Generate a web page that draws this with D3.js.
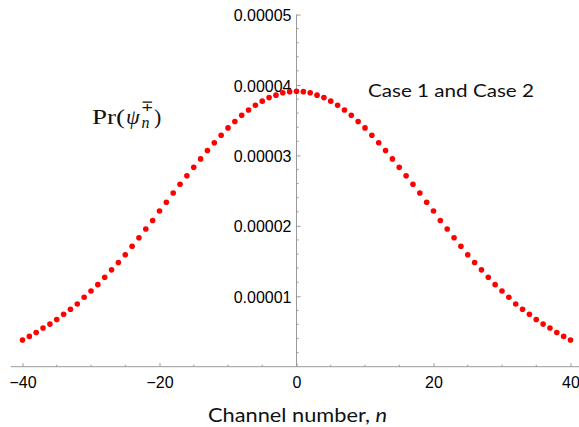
<!DOCTYPE html>
<html>
<head>
<meta charset="utf-8">
<script src="https://cdn.jsdelivr.net/npm/d3@7"></script>
<style>
  body { margin: 0; background: #fff; }
  svg { display: block; }
</style>
</head>
<body>
<div id="container"></div>
<script>
/** CONSTANTS AND GLOBALS */
const width = 579,
  height = 427;

// channel numbers n = -40 ... 40
const channels = d3.range(-40, 41);

// Pr(psi_n), in units of 1e-5, n = -40 ... 40
const probValues = [
  0.38, 0.43, 0.485, 0.55, 0.605, 0.67, 0.745, 0.815, 0.89, 0.985,
  1.075, 1.165, 1.27, 1.375, 1.48, 1.59, 1.71, 1.83, 1.955, 2.075,
  2.21, 2.335, 2.465, 2.59, 2.71, 2.83, 2.95, 3.07, 3.18, 3.285,
  3.39, 3.48, 3.57, 3.645, 3.71, 3.77, 3.82, 3.855, 3.89, 3.905,
  3.91,
  3.905, 3.89, 3.855, 3.82, 3.77, 3.71, 3.645, 3.57, 3.48, 3.39,
  3.285, 3.18, 3.07, 2.95, 2.83, 2.71, 2.59, 2.465, 2.335, 2.21,
  2.075, 1.955, 1.83, 1.71, 1.59, 1.48, 1.375, 1.27, 1.165, 1.075,
  0.985, 0.89, 0.815, 0.745, 0.67, 0.605, 0.55, 0.485, 0.43, 0.38
];

const xTicks = [-40, -20, 0, 20, 40];
const xMinorTicks = d3.range(-40, 41, 5).filter(d => d % 20 !== 0);
const yTicks = [0.00001, 0.00002, 0.00003, 0.00004, 0.00005];
const yMinorTicks = d3.range(1, 25).map(i => i * 0.000002).filter((d, i) => (i + 1) % 5 !== 0);

const axisColor = "#9a9a9a";
const dotColor = "#ff0000";

let svg;

init();

/** INITIALIZING FUNCTION */
function init() {
  const data = channels.map((n, i) => ({ n: n, p: probValues[i] * 1e-5 }));

  svg = d3.select("#container")
    .append("svg")
    .attr("width", width)
    .attr("height", height);

  const x = d3.scaleLinear().domain([-40, 40]).range([22.5, 570.5]);
  const y = d3.scaleLinear().domain([0, 0.00005]).range([366.7, 14.5]);

  // x axis (crosses at y = 0)
  const xAxis = d3.axisBottom(x)
    .tickValues(xTicks)
    .tickSizeInner(-3.5)
    .tickSizeOuter(0)
    .tickPadding(10);

  const gx = svg.append("g")
    .attr("transform", `translate(0,${y(0)})`)
    .call(xAxis);
  gx.select(".domain").remove();
  gx.append("line")
    .attr("x1", x(-41.7))
    .attr("x2", width)
    .attr("stroke", axisColor);
  gx.selectAll(".tick line").attr("stroke", axisColor);
  gx.selectAll(".tick text")
    .attr("fill", "#000")
    .style("font-family", "'Liberation Sans', Arial, sans-serif")
    .style("font-size", "16px");
  gx.selectAll("line.minor")
    .data(xMinorTicks)
    .join("line")
    .attr("class", "minor")
    .attr("x1", d => x(d))
    .attr("x2", d => x(d))
    .attr("y1", 0)
    .attr("y2", -2)
    .attr("stroke", axisColor);

  // y axis (crosses at x = 0)
  const yAxis = d3.axisLeft(y)
    .tickValues(yTicks)
    .tickFormat(d3.format(".5f"))
    .tickSizeInner(-4)
    .tickSizeOuter(0)
    .tickPadding(5);

  const gy = svg.append("g")
    .attr("transform", `translate(${x(0)},0)`)
    .call(yAxis);
  gy.select(".domain").remove();
  gy.append("line")
    .attr("y1", y(0))
    .attr("y2", y(0.00005))
    .attr("stroke", axisColor);
  gy.selectAll(".tick line").attr("stroke", axisColor);
  gy.selectAll(".tick text")
    .attr("fill", "#000")
    .attr("dy", "0.38em")
    .style("font-family", "'Liberation Sans', Arial, sans-serif")
    .style("font-size", "16px");
  gy.selectAll("line.minor")
    .data(yMinorTicks)
    .join("line")
    .attr("class", "minor")
    .attr("x1", 0)
    .attr("x2", 2)
    .attr("y1", d => y(d))
    .attr("y2", d => y(d))
    .attr("stroke", axisColor);

  // dots
  svg.selectAll("circle.dot")
    .data(data)
    .join("circle")
    .attr("class", "dot")
    .attr("cx", d => x(d.n))
    .attr("cy", d => y(d.p))
    .attr("r", 2.8)
    .attr("fill", dotColor);

  // y label: Pr(psi_n^-+)
  const serif = "'Liberation Serif', 'Times New Roman', serif";
  const lab = svg.append("g").style("font-family", serif).attr("fill", "#111");
  lab.append("text")
    .attr("x", 92)
    .attr("y", 124)
    .attr("textLength", 33)
    .attr("lengthAdjust", "spacingAndGlyphs")
    .style("font-size", "22px")
    .text("Pr(");
  lab.append("text")
    .attr("x", 126)
    .attr("y", 124)
    .style("font-size", "22px")
    .style("font-style", "italic")
    .text("ψ");
  lab.append("text")
    .attr("x", 140.5)
    .attr("y", 111)
    .style("font-size", "15px")
    .text("∓");
  lab.append("text")
    .attr("x", 141.5)
    .attr("y", 128)
    .style("font-size", "16px")
    .style("font-style", "italic")
    .text("n");
  lab.append("text")
    .attr("x", 154)
    .attr("y", 124)
    .style("font-size", "22px")
    .text(")");

  // annotation
  svg.append("text")
    .attr("x", 368)
    .attr("y", 97)
    .attr("textLength", 166)
    .attr("lengthAdjust", "spacingAndGlyphs")
    .style("font-family", "Lato, 'Open Sans', sans-serif")
    .style("font-size", "18px")
    .attr("fill", "#111")
    .text("Case 1 and Case 2");

  // x axis title
  const xt = svg.append("text")
    .attr("x", 208)
    .attr("y", 422)
    .attr("textLength", 179)
    .attr("lengthAdjust", "spacingAndGlyphs")
    .style("font-family", "Lato, 'Open Sans', sans-serif")
    .style("font-size", "19.5px")
    .attr("fill", "#111");
  xt.append("tspan").text("Channel number, ");
  xt.append("tspan").style("font-style", "italic").text("n");
}
</script>
</body>
</html>
